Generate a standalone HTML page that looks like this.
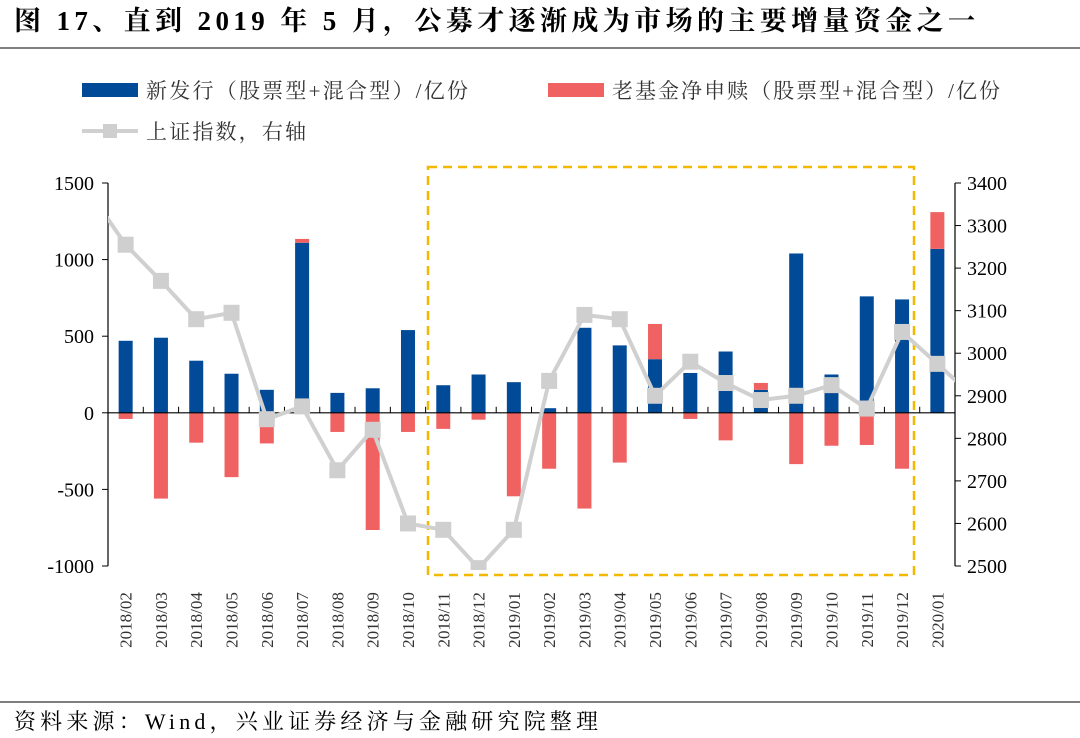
<!DOCTYPE html>
<html><head><meta charset="utf-8">
<style>
body{margin:0;background:#fff;}
#wrap{position:relative;width:1080px;height:738px;overflow:hidden;font-family:"Liberation Serif","Noto Serif CJK SC",serif;}
</style></head>
<body>
<div id="wrap">
<svg id="svg" width="1080" height="738" xmlns="http://www.w3.org/2000/svg">
<text x="14" y="30" font-size="27" font-weight="bold" textLength="961" lengthAdjust="spacing" font-family="Liberation Serif, Noto Serif CJK SC, serif">图 17、直到 2019 年 5 月，公募才逐渐成为市场的主要增量资金之一</text>
<line x1="0" y1="48" x2="1080" y2="48" stroke="#555" stroke-width="1.5"/>
<line x1="0" y1="702" x2="1080" y2="702" stroke="#555" stroke-width="1.5"/>
<text x="14" y="729" font-size="22" textLength="584" lengthAdjust="spacing" font-family="Liberation Serif, Noto Serif CJK SC, serif">资料来源：Wind，兴业证券经济与金融研究院整理</text>
<g font-size="21" fill="#333" font-family="Liberation Serif, Noto Serif CJK SC, serif">
<rect x="82" y="83" width="56" height="14" fill="#004a97"/>
<text x="146" y="98" textLength="322" lengthAdjust="spacing">新发行（股票型+混合型）/亿份</text>
<rect x="548" y="83" width="56" height="14" fill="#f06262"/>
<text x="612" y="98" textLength="388" lengthAdjust="spacing">老基金净申赎（股票型+混合型）/亿份</text>
<line x1="82" y1="131" x2="138" y2="131" stroke="#d0d0d0" stroke-width="4"/>
<rect x="103" y="124" width="14" height="14" fill="#cfcfcf"/>
<text x="146" y="139" textLength="160" lengthAdjust="spacing">上证指数，右轴</text>
</g>
<defs><clipPath id="plotclip"><rect x="108" y="175" width="847" height="395"/></clipPath></defs>
<g id="plot"></g>
</svg>
</div>
<script>
const categories=["2018/02","2018/03","2018/04","2018/05","2018/06","2018/07","2018/08","2018/09","2018/10","2018/11","2018/12","2019/01","2019/02","2019/03","2019/04","2019/05","2019/06","2019/07","2019/08","2019/09","2019/10","2019/11","2019/12","2020/01"];
const newIssue=[470,490,340,255,150,1110,130,160,540,180,250,200,30,555,440,350,260,400,150,1040,250,760,740,1070];
const redemption=[-40,-560,-195,-420,-200,25,-125,-765,-125,-105,-45,-545,-365,-625,-325,230,-40,-180,45,-335,-215,-210,-365,240];
const indexLead=3375;
const indexVals=[3255,3170,3080,3095,2845,2875,2725,2820,2600,2585,2495,2585,2935,3090,3080,2900,2980,2930,2890,2900,2925,2870,3050,2975];
const indexTail=2900;
const leftTicks=[1500,1000,500,0,-500,-1000];
const rightTicks=[3400,3300,3200,3100,3000,2900,2800,2700,2600,2500];

const NS="http://www.w3.org/2000/svg";
const plot=document.getElementById('plot');
const X0=108,X1=955,YT=183,YB=566;
const step=(X1-X0)/categories.length;
const xc=i=>X0+step*(i+0.5);
const yL=v=>YB-(v+1000)/2500*(YB-YT);
const yR=v=>YB-(v-2500)/900*(YB-YT);
function mk(tag,attrs,parent){const e=document.createElementNS(NS,tag);for(const k in attrs)e.setAttribute(k,attrs[k]);(parent||plot).appendChild(e);return e;}
const FF="Liberation Serif, Noto Serif CJK SC, serif";

const BW=14;
categories.forEach((c,i)=>{
  const b=mk('rect',{x:xc(i)-BW/2,y:yL(newIssue[i]),width:BW,height:yL(0)-yL(newIssue[i]),fill:'#004a97'});
  
  
  const r=redemption[i];
  let y1,y2;
  if(r>=0){y1=yL(newIssue[i]+r);y2=yL(newIssue[i]);}else{y1=yL(0);y2=yL(r);}
  const rb=mk('rect',{x:xc(i)-BW/2,y:y1,width:BW,height:y2-y1,fill:'#f06262'});
  
  
});
const zl=mk('line',{x1:X0,y1:yL(0),x2:X1,y2:yL(0),stroke:'#000','stroke-width':1.2});


for(let i=0;i<=categories.length;i++){
  const t=mk('line',{x1:X0+step*i,y1:yL(0),x2:X0+step*i,y2:yL(0)-6,stroke:'#000','stroke-width':1});
  
  
}
const la=mk('line',{x1:X0,y1:YT,x2:X0,y2:YB,stroke:'#000','stroke-width':1.2});


const ra=mk('line',{x1:X1,y1:YT,x2:X1,y2:YB,stroke:'#000','stroke-width':1.2});


leftTicks.forEach(v=>{
  const t=mk('line',{x1:X0-6,y1:yL(v),x2:X0,y2:yL(v),stroke:'#000'});
  
  
  const l=mk('text',{x:X0-14,y:yL(v)+7,'text-anchor':'end','font-size':20,'font-family':FF});
  l.textContent=v;
  
  
});
rightTicks.forEach(v=>{
  const t=mk('line',{x1:X1,y1:yR(v),x2:X1+6,y2:yR(v),stroke:'#000'});
  
  
  const l=mk('text',{x:X1+12,y:yR(v)+7,'font-size':20,'font-family':FF});
  l.textContent=v;
  
  
});
categories.forEach((c,i)=>{
  const l=mk('text',{x:0,y:0,'text-anchor':'middle','font-size':17,'font-family':FF,fill:'#333',transform:`translate(${xc(i)+6},620) rotate(-90)`});
  l.textContent=c;
  
  
});
const box=mk('rect',{x:428,y:167,width:486,height:408,fill:'none',stroke:'#f5b800','stroke-width':2.5,'stroke-dasharray':'9,6'});


const g=mk('g',{'clip-path':'url(#plotclip)'});


const pts=[[xc(-1),yR(indexLead)]].concat(indexVals.map((v,i)=>[xc(i),yR(v)])).concat([[xc(categories.length),yR(indexTail)]]);
const pl=mk('polyline',{points:pts.map(p=>p.join(',')).join(' '),fill:'none',stroke:'#d0d0d0','stroke-width':4,'stroke-linejoin':'round'},g);


indexVals.forEach((v,i)=>{
  const m=mk('rect',{x:xc(i)-8,y:yR(v)-8,width:16,height:16,fill:'#cfcfcf'},g);
  
  
});
</script>
</body></html>
